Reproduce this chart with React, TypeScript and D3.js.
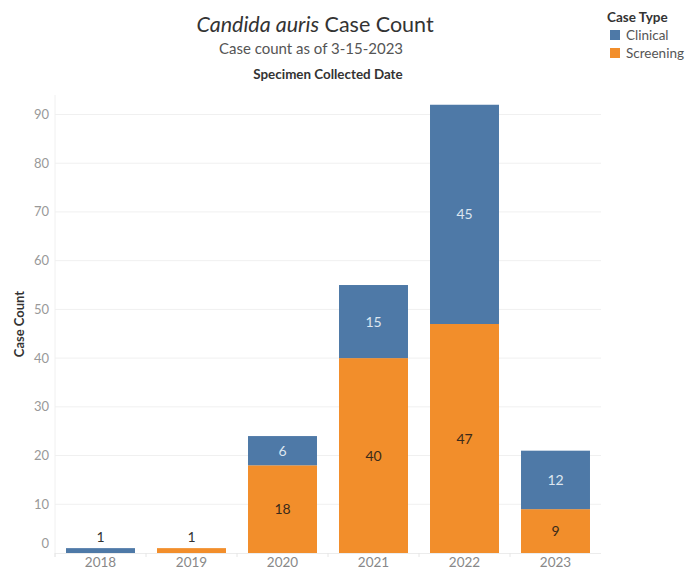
import React from 'react';
import * as d3 from 'd3';

// data
const years = ['2018', '2019', '2020', '2021', '2022', '2023'];
const screening = [0, 1, 18, 40, 47, 9];
const clinical = [1, 0, 6, 15, 45, 12];
const yTicks = [0, 10, 20, 30, 40, 50, 60, 70, 80, 90];
const caseTypes = ['Clinical', 'Screening'];

const BLUE = '#4e79a7';
const ORANGE = '#f28e2b';
const FONT = 'Lato, "Open Sans", sans-serif';

const App = () => {
  const width = 686, height = 571;
  const margin = { top: 95, right: 85, bottom: 18, left: 55 };
  const innerH = height - margin.bottom;

  const x = d3.scaleBand().domain(years).range([margin.left, width - margin.right]).paddingInner(0.242).paddingOuter(0.121);
  const y = d3.scaleLinear().domain([0, 94]).range([innerH, margin.top]);

  const rows = years.map((yr, i) => ({ year: yr, Screening: screening[i], Clinical: clinical[i] }));
  const stack = d3.stack<any>().keys(['Screening', 'Clinical'])(rows);
  const step = x.step();

  return (
    <svg width={width} height={height} style={{ position: 'absolute', left: 0, top: 0, fontFamily: FONT }}>
      {/* titles */}
      <text x={315} y={32} textAnchor="middle" fontSize={21.5} fill="#333">
        <tspan fontStyle="italic">Candida auris</tspan>
        <tspan> Case Count</tspan>
      </text>
      <text x={311} y={54} textAnchor="middle" fontSize={15} fill="#555">Case count as of 3-15-2023</text>
      <text x={328} y={79} textAnchor="middle" fontSize={13.4} fontWeight="bold" fill="#333">Specimen Collected Date</text>

      {/* grid */}
      {yTicks.filter(t => t > 0).map(t => (
        <line key={t} x1={margin.left} x2={width - margin.right} y1={y(t)} y2={y(t)} stroke="#f0f0f0" />
      ))}
      <line x1={margin.left} x2={margin.left} y1={margin.top} y2={innerH + 4} stroke="#f0f0f0" />
      <line x1={margin.left} x2={width - margin.right} y1={innerH + 0.5} y2={innerH + 0.5} stroke="#ececec" />
      {years.map((yr, i) => (
        <line key={yr} x1={margin.left + step * i} x2={margin.left + step * i} y1={innerH} y2={innerH + 4} stroke="#e6e6e6" />
      ))}

      {/* y axis */}
      {yTicks.map(t => (
        <text key={t} x={49} y={t === 0 ? y(t) - 5 : y(t) + 4.5} textAnchor="end" fontSize={13} fill="#999">{t}</text>
      ))}
      <text transform={`translate(24,${(margin.top + innerH) / 2}) rotate(-90)`} textAnchor="middle" fontSize={13} fontWeight="bold" fill="#333">Case Count</text>

      {/* bars */}
      {stack.map(series => (
        <g key={series.key}>
          {series.map((d, i) => {
            const v = d[1] - d[0];
            if (v <= 0) return null;
            const col = series.key === 'Clinical' ? BLUE : ORANGE;
            const bx = x(years[i]) as number;
            const top = y(d[1]);
            const bot = y(d[0]);
            const small = bot - top < 20;
            return (
              <g key={i}>
                <rect x={bx} y={top} width={x.bandwidth()} height={bot - top} fill={col} />
                <text
                  x={bx + x.bandwidth() / 2}
                  y={small ? top - 6 : (top + bot) / 2 + 5}
                  textAnchor="middle"
                  fontSize={14}
                  fill={small ? '#333' : series.key === 'Clinical' ? '#dde6f0' : '#3a2a1a'}
                >{v}</text>
              </g>
            );
          })}
        </g>
      ))}

      {/* x axis labels */}
      {years.map(yr => (
        <text key={yr} x={(x(yr) as number) + x.bandwidth() / 2} y={567} textAnchor="middle" fontSize={13.5} fill="#888">{yr}</text>
      ))}

      {/* legend */}
      <text x={607} y={22} fontSize={13.5} fontWeight="bold" fill="#333">Case Type</text>
      {caseTypes.map((c, i) => (
        <g key={c}>
          <rect x={610} y={30 + i * 18} width={10} height={10} fill={c === 'Clinical' ? BLUE : ORANGE} />
          <text x={626} y={40 + i * 18} fontSize={13.5} fill="#555">{c}</text>
        </g>
      ))}
    </svg>
  );
};

export default App;
